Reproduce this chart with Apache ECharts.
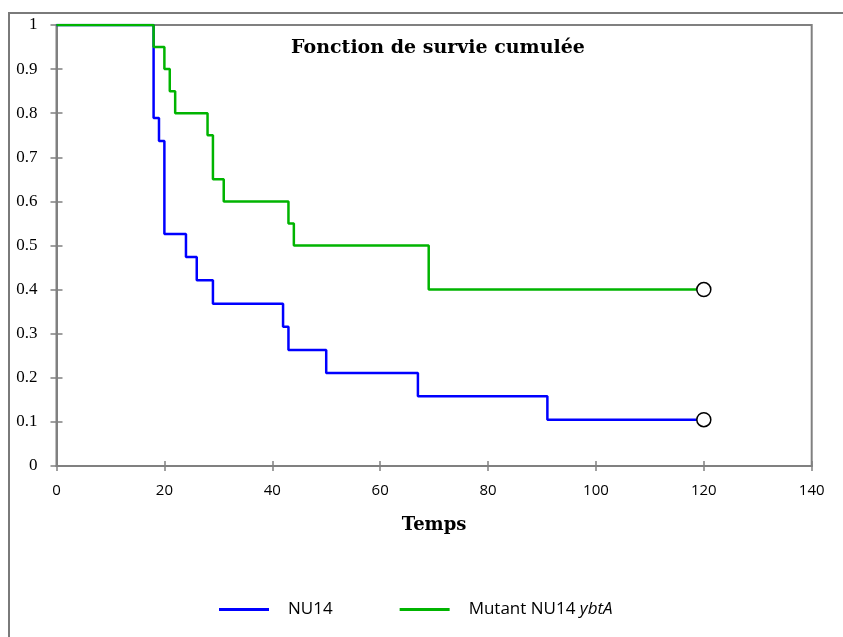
<!DOCTYPE html>
<html>
<head>
<meta charset="utf-8">
<script src="https://cdn.jsdelivr.net/npm/echarts@6/dist/echarts.min.js"></script>
<style>html,body{margin:0;padding:0;background:#fff;}#c{width:843px;height:637px;}</style>
</head>
<body>
<div id="c"></div>
<script>
// ---- data ----
var titleText = 'Fonction de survie cumulée';
var xAxisName = 'Temps';
var seriesNames = ['NU14', 'Mutant NU14 ybtA'];
var nu14Times = [0, 18, 19, 20, 24, 26, 29, 42, 43, 50, 67, 91, 120];
var nu14Surv  = [1, 0.789, 0.737, 0.526, 0.474, 0.421, 0.368, 0.316, 0.263, 0.211, 0.158, 0.105, 0.105];
var mutTimes  = [0, 18, 20, 21, 22, 28, 29, 31, 43, 44, 69, 120];
var mutSurv   = [1, 0.95, 0.9, 0.85, 0.8, 0.75, 0.65, 0.6, 0.55, 0.5, 0.4, 0.4];
var xTicks = [0, 20, 40, 60, 80, 100, 120, 140];
var yTicks = [0, 0.1, 0.2, 0.3, 0.4, 0.5, 0.6, 0.7, 0.8, 0.9, 1];

function build(times, surv) {
  return times.map(function (t, i) {
    var item = { value: [t, surv[i]] };
    if (i === times.length - 1) {
      item.symbol = 'circle';
      item.symbolSize = 14;
      item.itemStyle = { color: '#fff', borderColor: '#000', borderWidth: 1.5 };
    }
    return item;
  });
}

var chart = echarts.init(document.getElementById('c'));
var axisGray = '#808080';
var yAxisCommon = {
  type: 'value', min: yTicks[0], max: yTicks[yTicks.length - 1], interval: 0.1,
  splitLine: { show: false }
};
var xAxisCommon = {
  type: 'value', min: xTicks[0], max: xTicks[xTicks.length - 1], interval: 20,
  splitLine: { show: false }
};
chart.setOption({
  animation: false,
  backgroundColor: '#fff',
  graphic: [{
    type: 'rect', shape: { x: 9, y: 13, width: 900, height: 700 },
    style: { fill: 'none', stroke: '#7a7a7a', lineWidth: 2 }, z: -10
  }],
  title: {
    text: titleText, left: 433, top: 34, textAlign: 'center',
    textStyle: { fontFamily: 'DejaVu Serif', fontWeight: 'bold', fontSize: 19, color: '#000' }
  },
  grid: {
    left: 56.5, right: 31.3, top: 25, bottom: 171,
    show: true, borderColor: axisGray, borderWidth: 2, backgroundColor: 'transparent'
  },
  legend: {
    left: 219, top: 601, padding: 0,
    itemWidth: 50, itemHeight: 3, itemGap: 67, icon: 'rect',
    data: seriesNames,
    formatter: function (name) {
      if (name === seriesNames[1]) return '{n|Mutant NU14 }{i|ybtA}';
      return '{n|' + name + '}';
    },
    textStyle: {
      padding: [0, 0, 0, 14],
      rich: {
        n: { fontFamily: 'Open Sans', fontSize: 17, color: '#000' },
        i: { fontFamily: 'Open Sans', fontSize: 17, fontStyle: 'italic', color: '#000' }
      }
    }
  },
  xAxis: [
    Object.assign({}, xAxisCommon, {
      name: xAxisName, nameLocation: 'middle', nameGap: 50,
      nameTextStyle: { fontFamily: 'DejaVu Serif', fontWeight: 'bold', fontSize: 18, color: '#000' },
      axisLine: { lineStyle: { color: axisGray, width: 2 } },
      axisTick: { show: true, length: 5, lineStyle: { color: axisGray, width: 1.5 } },
      axisLabel: { fontFamily: 'Open Sans', fontSize: 15, color: '#000', margin: 17 }
    }),
    Object.assign({}, xAxisCommon, {
      position: 'bottom',
      axisLine: { show: false },
      axisTick: { show: true, inside: true, length: 5, lineStyle: { color: axisGray, width: 1.5 } },
      axisLabel: { show: false }
    })
  ],
  yAxis: [
    Object.assign({}, yAxisCommon, {
      axisLine: { show: true, lineStyle: { color: axisGray, width: 2 } },
      axisTick: { show: true, length: 6, lineStyle: { color: axisGray, width: 1.5 } },
      axisLabel: {
        fontFamily: 'Liberation Serif', fontSize: 17, color: '#000', margin: 19,
        formatter: function (v) { return String(Math.round(v * 10) / 10); }
      }
    }),
    Object.assign({}, yAxisCommon, {
      position: 'left',
      axisLine: { show: false },
      axisTick: { show: true, inside: true, length: 6, lineStyle: { color: axisGray, width: 1.5 } },
      axisLabel: { show: false }
    })
  ],
  series: [
    {
      name: seriesNames[0], type: 'line', step: 'end',
      data: build(nu14Times, nu14Surv),
      symbol: 'none', showSymbol: true,
      lineStyle: { color: '#0000FF', width: 2.5 },
      itemStyle: { color: '#0000FF' },
      z: 2
    },
    {
      name: seriesNames[1], type: 'line', step: 'end',
      data: build(mutTimes, mutSurv),
      symbol: 'none', showSymbol: true,
      lineStyle: { color: '#00B400', width: 2.5 },
      itemStyle: { color: '#00B400' },
      z: 3
    }
  ]
});
</script>
</body>
</html>
